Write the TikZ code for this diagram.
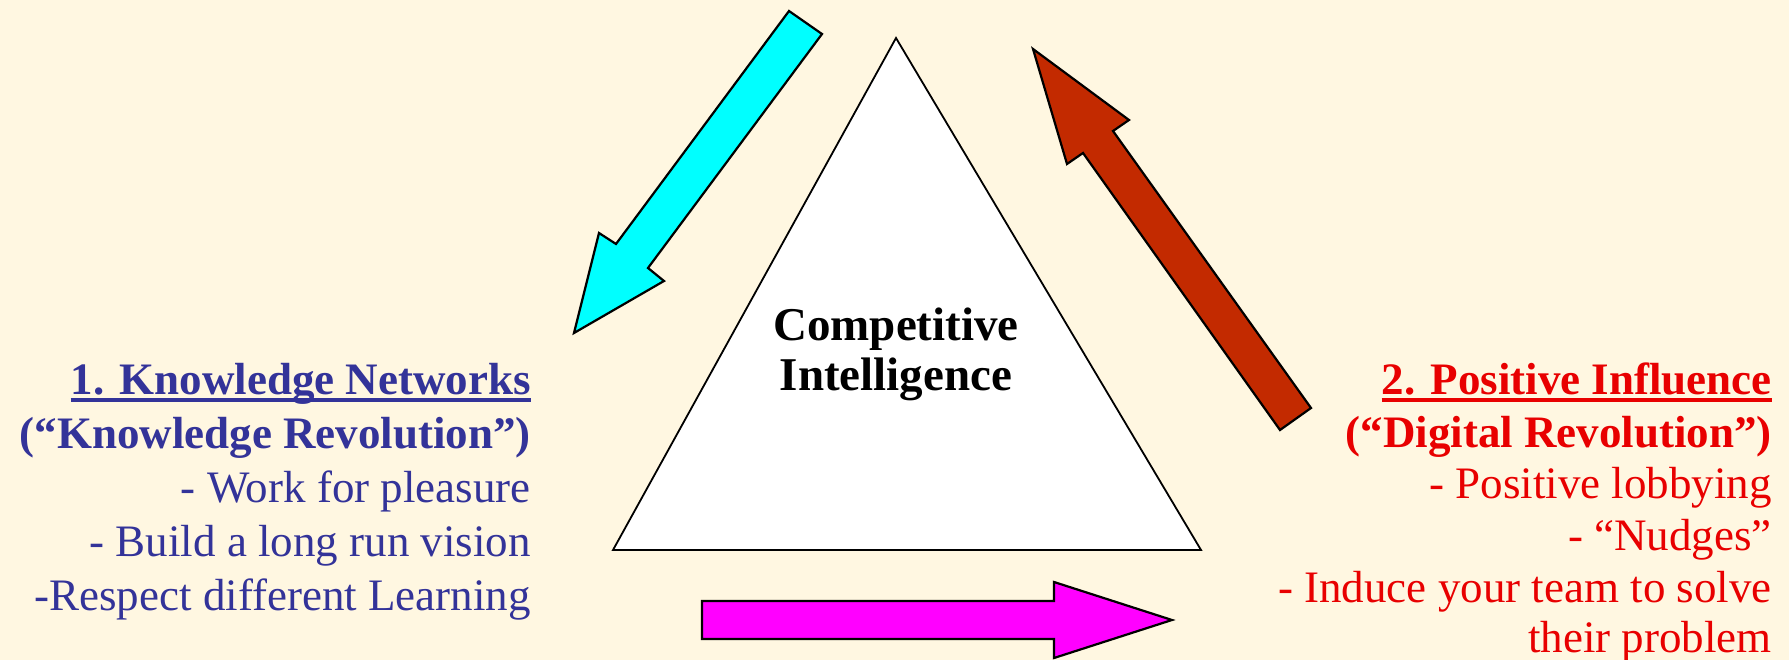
\documentclass[tikz,border=0pt]{standalone}
\usepackage{fontspec}
\setmainfont{Liberation Serif}
\definecolor{bgc}{RGB}{255,247,225}
\definecolor{bluetxt}{RGB}{51,51,153}
\definecolor{redtxt}{RGB}{232,0,0}
\definecolor{redarrow}{RGB}{195,42,0}
\definecolor{cyanarrow}{RGB}{0,255,255}
\definecolor{magarrow}{RGB}{255,0,255}
\begin{document}
\begin{tikzpicture}[x=1pt,y=-1pt,
  txt/.style={inner sep=0pt,anchor=base east,font=\fontsize{45}{54}\selectfont},
  lefttxt/.style={txt,text=bluetxt},
  righttxt/.style={txt,text=redtxt},
  blockarrow/.style={draw=black,line width=2.2pt,line join=miter}]
\fill[bgc] (0,0) rectangle (1789,660);
\useasboundingbox (0,0) rectangle (1789,660);
% triangle
\draw[line width=1.8pt,fill=white,line join=miter] (896,38) -- (613,550) -- (1201,550) -- cycle;
\node[inner sep=0pt,align=center,font=\fontsize{47}{50}\selectfont\bfseries,anchor=base] (ci) at (896,390) {Competitive\\Intelligence};
% cyan arrow
\draw[blockarrow,fill=cyanarrow] (789,11) -- (822,34) -- (648,268) -- (664,281) -- (574,333) -- (599,233) -- (616,244) -- cycle;
% red arrow
\draw[blockarrow,fill=redarrow] (1033,49) -- (1129,120) -- (1113,131) -- (1311,408) -- (1280,430) -- (1083,153) -- (1067,164) -- cycle;
% magenta arrow
\draw[blockarrow,fill=magarrow] (702,601) -- (1054,601) -- (1054,582) -- (1172,620) -- (1054,658) -- (1054,639) -- (702,639) -- cycle;
% left text
\node[lefttxt,font=\fontsize{45}{54}\selectfont\bfseries] (L1) at (531,394) {1. Knowledge Networks};
\draw[bluetxt,line width=4pt] ([yshift=-6pt]L1.base west) -- ([yshift=-6pt]L1.base east);
\node[lefttxt,font=\fontsize{45}{54}\selectfont\bfseries] (L2) at (531,448) {(“Knowledge Revolution”)};
\node[lefttxt] (L3) at (531,502) {- Work for pleasure};
\node[lefttxt] (L4) at (531,556) {- Build a long run vision};
\node[lefttxt] (L5) at (531,610) {-Respect different Learning};
% right text
\node[righttxt,font=\fontsize{45}{54}\selectfont\bfseries] (R1) at (1772,394) {2. Positive Influence};
\draw[redtxt,line width=4pt] ([yshift=-6pt]R1.base west) -- ([yshift=-6pt]R1.base east);
\node[righttxt,font=\fontsize{45}{54}\selectfont\bfseries] (R2) at (1772,447) {(“Digital Revolution”)};
\node[righttxt] (R3) at (1772,498) {- Positive lobbying};
\node[righttxt] (R4) at (1772,550) {- “Nudges”};
\node[righttxt] (R5) at (1772,602) {- Induce your team to solve};
\node[righttxt] (R6) at (1772,652) {their problem};
\end{tikzpicture}
\end{document}
